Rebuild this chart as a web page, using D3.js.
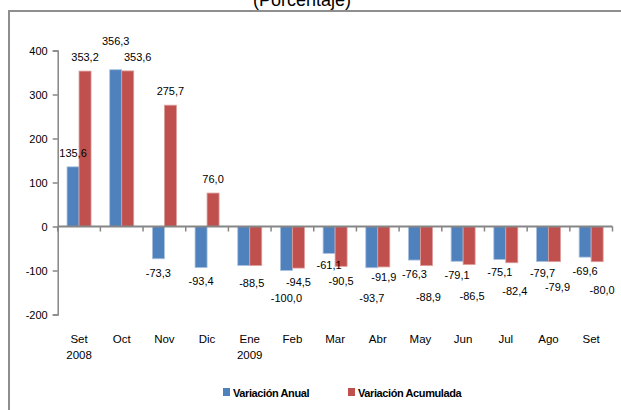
<!DOCTYPE html>
<html>
<head>
<meta charset="utf-8">
<script src="https://cdn.jsdelivr.net/npm/d3@7"></script>
<style>
  html, body { margin: 0; padding: 0; background: #fff; }
  text { font-family: "Liberation Sans", Arial, sans-serif; fill: #000; }
</style>
</head>
<body>
<div id="chart"></div>
<script>
const months = ['Set', 'Oct', 'Nov', 'Dic', 'Ene', 'Feb', 'Mar', 'Abr', 'May', 'Jun', 'Jul', 'Ago', 'Set'];
const years = ['2008', '', '', '', '2009', '', '', '', '', '', '', '', ''];
const anual = [135.6, 356.3, -73.3, -93.4, -88.5, -100.0, -61.1, -93.7, -76.3, -79.1, -75.1, -79.7, -69.6];
const acumulada = [353.2, 353.6, 275.7, 76.0, -88.5, -94.5, -90.5, -91.9, -88.9, -86.5, -82.4, -79.9, -80.0];
const yTicks = [-200, -100, 0, 100, 200, 300, 400];
const seriesNames = ['Variación Anual', 'Variación Acumulada'];

// manual label nudges (Excel moved some labels to avoid overlaps)
const nudgeAnual = [[0, 0], [0, -15], [0, 0], [0, 0], [8, 4], [0, 14], [0, -2], [0, 16], [0, 0], [0, 0], [0, -1], [0, -2], [0, 0]];
const nudgeAcum = [[0, 0], [10, 0], [0, 0], [0, 0], [-4, 4], [0, 0], [0, 1], [0, -4], [2, 18], [3, 18], [3, 14], [3, 11], [5, 14]];

const width = 621, height = 410;
const locale = d3.formatLocale({ decimal: ',', thousands: '.', grouping: [3], currency: ['', ''], minus: '-' });
const fmt = locale.format('.1f');
const fmtTick = locale.format('d');

const svg = d3.select('#chart').append('svg')
  .attr('width', width).attr('height', height);

svg.append('rect').attr('width', width).attr('height', height).attr('fill', '#fff');

// outer frame (left + top visible)
svg.append('path')
  .attr('d', 'M9,420V11H621')
  .attr('fill', 'none').attr('stroke', '#8e8e8e').attr('stroke-width', 2);

// title, cut off by the top edge like in the source
svg.append('text')
  .attr('x', 302).attr('y', 6)
  .attr('text-anchor', 'middle')
  .style('font-size', '18px')
  .text('(Porcentaje)');

const x = d3.scaleBand().domain(d3.range(months.length)).range([57.7, 612.5]).padding(0);
const y = d3.scaleLinear().domain([-200, 400]).range([314.5, 50.5]);
const bw = x.bandwidth();
const xs = d3.scaleBand().domain([0, 1]).range([bw / 2 - 12, bw / 2 + 12]);

const colors = ['#4f81bd', '#c0504d'];
const edges = ['#a9c1e0', '#dc9d9b'];
const series = [anual, acumulada];
const nudges = [nudgeAnual, nudgeAcum];

// y axis
const yAxis = d3.axisLeft(y).tickValues(yTicks).tickSize(5).tickPadding(5).tickFormat(fmtTick);
const gy = svg.append('g').attr('transform', 'translate(57.7,0)').call(yAxis);
gy.select('.domain').attr('stroke', '#868686').attr('stroke-width', 1.5);
gy.selectAll('.tick line').attr('stroke', '#868686').attr('stroke-width', 1.5);
gy.selectAll('.tick text').style('font-size', '11px').attr('fill', '#000');

// bars
series.forEach((vals, si) => {
  svg.append('g').selectAll('rect')
    .data(vals)
    .join('rect')
    .attr('x', (d, i) => x(i) + xs(si))
    .attr('width', xs.bandwidth())
    .attr('y', d => y(Math.max(0, d)))
    .attr('height', d => Math.abs(y(d) - y(0)))
    .attr('fill', colors[si])
    .attr('stroke', edges[si])
    .attr('stroke-width', 0.8);
});

// x axis at zero
const gx = svg.append('g').attr('transform', `translate(0,${y(0)})`);
gx.append('line').attr('x1', 57.7).attr('x2', 612.5)
  .attr('stroke', '#868686').attr('stroke-width', 2);
gx.selectAll('line.tk')
  .data(d3.range(months.length + 1))
  .join('line').attr('class', 'tk')
  .attr('x1', i => i < months.length ? x(i) : x(months.length - 1) + bw)
  .attr('x2', i => i < months.length ? x(i) : x(months.length - 1) + bw)
  .attr('y1', 0).attr('y2', 5)
  .attr('stroke', '#868686').attr('stroke-width', 1.5);

// data labels (skip a label that would sit exactly on the other series' identical one)
series.forEach((vals, si) => {
  svg.append('g').selectAll('text')
    .data(vals.map((v, i) => ({ v, i })).filter(d => !(si === 1 && anual[d.i] === d.v)))
    .join('text')
    .attr('text-anchor', 'middle')
    .attr('dy', '0.35em')
    .style('font-size', '11px')
    .attr('x', d => x(d.i) + xs(si) + xs.bandwidth() / 2 + nudges[si][d.i][0])
    .attr('y', d => (d.v >= 0 ? y(d.v) - 14 : y(d.v) + 14) + nudges[si][d.i][1])
    .text(d => fmt(d.v));
});

// category labels
const cat = svg.append('g');
cat.selectAll('text.m')
  .data(months).join('text').attr('class', 'm')
  .attr('x', (d, i) => x(i) + bw / 2).attr('y', 342.5)
  .attr('text-anchor', 'middle').style('font-size', '11.5px')
  .text(d => d);
cat.selectAll('text.yr')
  .data(years).join('text').attr('class', 'yr')
  .attr('x', (d, i) => x(i) + bw / 2).attr('y', 359)
  .attr('text-anchor', 'middle').style('font-size', '11.5px')
  .text(d => d);

// legend
const legX = [223, 348];
const leg = svg.append('g').selectAll('g').data(seriesNames).join('g')
  .attr('transform', (d, i) => `translate(${legX[i]},388)`);
leg.append('rect').attr('width', 7).attr('height', 8).attr('fill', (d, i) => colors[i]);
leg.append('text').attr('x', 10).attr('y', 9)
  .style('font-size', '11px').style('font-weight', 'bold').style('letter-spacing', '-0.4px')
  .text(d => d);
</script>
</body>
</html>
